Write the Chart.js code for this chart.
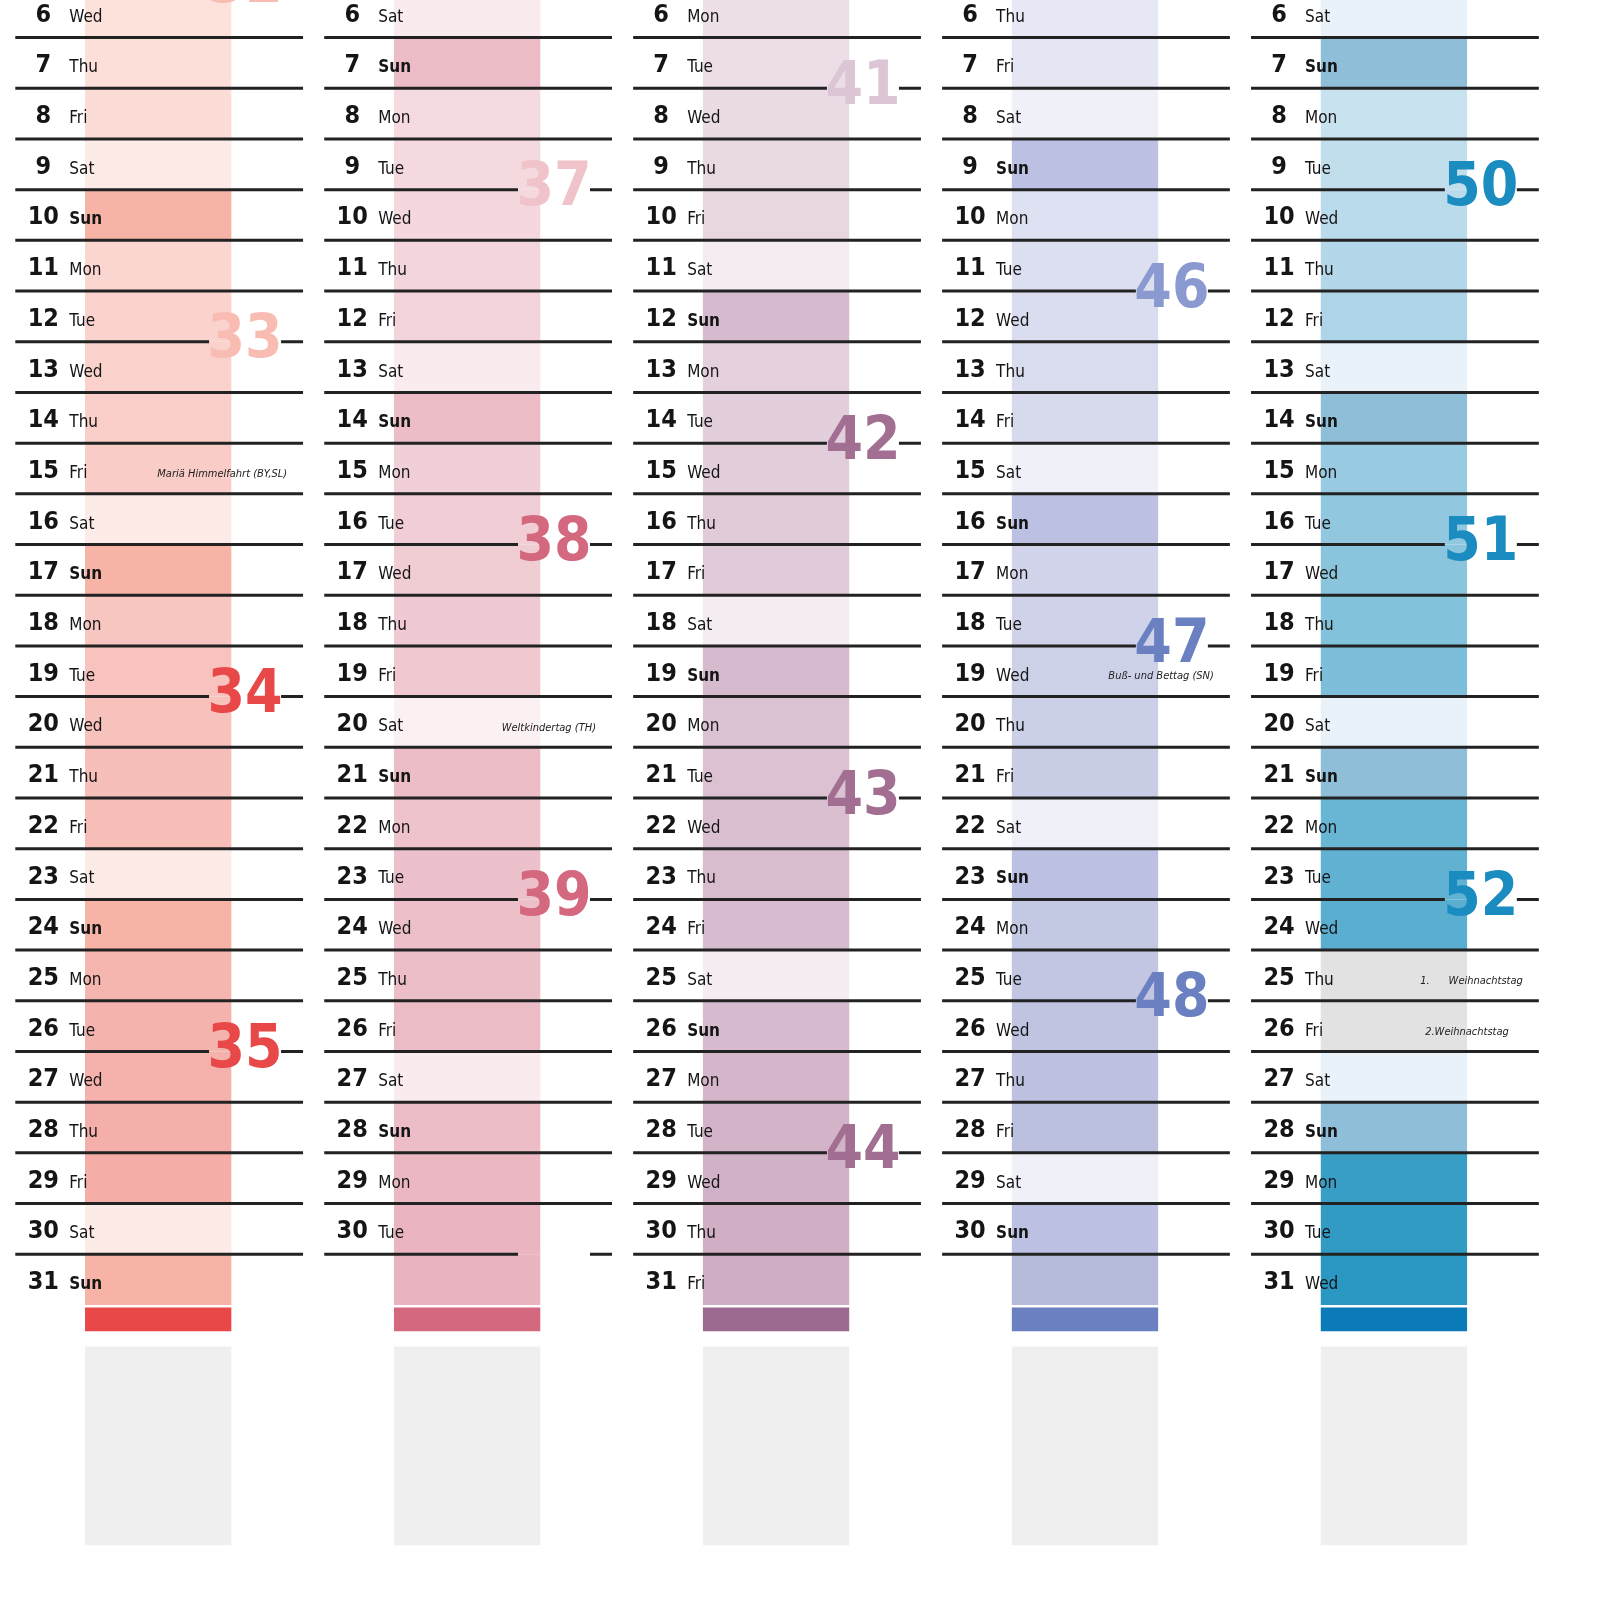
<!DOCTYPE html>
<html><head><meta charset="utf-8">
<script src="https://cdn.jsdelivr.net/npm/chart.js@4.4.1/dist/chart.umd.min.js"></script>
<style>body{margin:0;background:#fff}canvas{display:block}</style>
</head><body>
<canvas id="cal" width="1600" height="1600"></canvas>
<script>
const DAYS = Array.from({length: 26}, (_, i) => i + 6); // 6..31
const MONTHS = ['Aug', 'Sep', 'Oct', 'Nov', 'Dec'];
const WEEKDAYS = [
  'Wed Thu Fri Sat Sun Mon Tue Wed Thu Fri Sat Sun Mon Tue Wed Thu Fri Sat Sun Mon Tue Wed Thu Fri Sat Sun',
  'Sat Sun Mon Tue Wed Thu Fri Sat Sun Mon Tue Wed Thu Fri Sat Sun Mon Tue Wed Thu Fri Sat Sun Mon Tue -',
  'Mon Tue Wed Thu Fri Sat Sun Mon Tue Wed Thu Fri Sat Sun Mon Tue Wed Thu Fri Sat Sun Mon Tue Wed Thu Fri',
  'Thu Fri Sat Sun Mon Tue Wed Thu Fri Sat Sun Mon Tue Wed Thu Fri Sat Sun Mon Tue Wed Thu Fri Sat Sun -',
  'Sat Sun Mon Tue Wed Thu Fri Sat Sun Mon Tue Wed Thu Fri Sat Sun Mon Tue Wed Thu Fri Sat Sun Mon Tue Wed'
].map(s => s.split(' '));
// week number: [label, day above the line it sits on]
const WEEKS = [
  [['32', 5], ['33', 12], ['34', 19], ['35', 26]],
  [['37', 9], ['38', 16], ['39', 23], ['', 30]],
  [['41', 7], ['42', 14], ['43', 21], ['44', 28]],
  [['46', 11], ['47', 18], ['48', 25]],
  [['50', 9], ['51', 16], ['52', 23]]
];
const HOLIDAYS = [
  {m: 0, d: 15, text: 'Mariä Himmelfahrt (BY,SL)'},
  {m: 1, d: 20, text: 'Weltkindertag (TH)'},
  {m: 3, d: 19, text: 'Buß- und Bettag (SN)'},
  {m: 4, d: 25, text: '1.      Weihnachtstag'},
  {m: 4, d: 26, text: '2.Weihnachtstag'}
];

// palette per month: weekday top, weekday bottom, saturday, sunday, week strong, week faded, band
const PAL = [
  ['#fde1db', '#f3a8a3', '#fdebe7', '#f7b4a6', '#e84848', '#f8bcb2', '#e84848'],
  ['#f6dfe3', '#e9b3bf', '#f9ebee', '#ecbdc7', '#d4687f', '#f0c2ca', '#d4687f'],
  ['#eddfe7', '#cfadc4', '#f4ecf1', '#d6bbcf', '#a26f92', '#dcc6d6', '#9c6a90'],
  ['#e6e8f5', '#b6bbdc', '#eff0f8', '#bcc0e2', '#6a80c0', '#8a9ad0', '#6a80c0'],
  ['#d6e8f3', '#2a98c2', '#e9f2f8', '#8fbfd8', '#1a8cc0', '#1a8cc0', '#0a7ab8']
];
const FADED = {'32': 1, '33': 1, '37': 1, '41': 1, '46': 1};

function mix(a, b, t) {
  const p = h => [1, 3, 5].map(i => parseInt(h.substr(i, 2), 16));
  const A = p(a), B = p(b);
  return 'rgb(' + A.map((v, i) => Math.round(v + (B[i] - v) * t)).join(',') + ')';
}
function cellColor(m, i) {
  const wd = WEEKDAYS[m][i], d = DAYS[i];
  if (m === 4 && (d === 25 || d === 26)) return '#e2e2e2';
  if (m === 1 && d === 20) return '#fbf1f3';
  if (wd === 'Sat') return PAL[m][2];
  if (wd === 'Sun') return PAL[m][3];
  return mix(PAL[m][0], PAL[m][1], i / 25);
}

const cellData = [], cellColors = [];
MONTHS.forEach((_, m) => DAYS.forEach((d, i) => {
  cellData.push({x: m, y: [d - 0.5, d + 0.5]});
  cellColors.push(cellColor(m, i));
}));

const FONT = '"DejaVu Sans Condensed", "Liberation Sans Narrow", Roboto, sans-serif';

const calText = {
  id: 'calText',
  afterDatasetsDraw(chart) {
    const {ctx, scales: {x, y}} = chart;
    const half = x.getPixelForValue(0.4625) - x.getPixelForValue(0);
    ctx.save();
    MONTHS.forEach((_, m) => {
      const cx = x.getPixelForValue(m), left = cx - half, right = cx + half;
      const wx = right - 56;
      ctx.strokeStyle = '#222'; ctx.lineWidth = 3;
      DAYS.slice(0, 25).concat([5]).forEach(d => {
        const py = y.getPixelForValue(d + 0.5);
        const wk = WEEKS[m].find(w => w[1] === d);
        ctx.beginPath();
        if (wk) {
          ctx.moveTo(left, py); ctx.lineTo(wx - 36, py);
          ctx.moveTo(wx + 36, py); ctx.lineTo(right + 2, py);
        } else {
          ctx.moveTo(left, py); ctx.lineTo(right + 2, py);
        }
        ctx.stroke();
      });
      DAYS.forEach((d, i) => {
        const wd = WEEKDAYS[m][i];
        if (wd === '-') return;
        const py = y.getPixelForValue(d) + 3;
        ctx.fillStyle = '#151515';
        ctx.textBaseline = 'middle';
        ctx.textAlign = 'center';
        ctx.font = 'bold 25px ' + FONT;
        ctx.fillText(String(d), left + 28, py);
        ctx.textAlign = 'left';
        ctx.font = (wd === 'Sun' ? 'bold ' : '') + '17px ' + FONT;
        ctx.fillText(wd, left + 54, py + 2);
      });
      WEEKS[m].forEach(([lbl, d]) => {
        if (!lbl) return;
        ctx.fillStyle = FADED[lbl] ? PAL[m][5] : PAL[m][4];
        ctx.textAlign = 'center'; ctx.textBaseline = 'middle';
        ctx.font = 'bold 60px ' + FONT;
        ctx.fillText(lbl, wx, y.getPixelForValue(d + 0.5));
      });
    });
    HOLIDAYS.forEach(h => {
      const cx = x.getPixelForValue(h.m);
      ctx.fillStyle = '#222';
      ctx.textAlign = 'right'; ctx.textBaseline = 'middle';
      ctx.font = 'italic 11px ' + FONT;
      const py = y.getPixelForValue(h.d) + (h.m === 3 ? 5 : 6);
      ctx.fillText(h.text, cx + half - (h.m === 4 && h.d === 26 ? 28 : 14), py);
    });
    ctx.restore();
  }
};

const barOpts = {grouped: false, barPercentage: 0.925, categoryPercentage: 1};
new Chart(document.getElementById('cal'), {
  type: 'bar',
  data: {
    datasets: [
      {data: cellData, backgroundColor: cellColors, ...barOpts},
      {data: MONTHS.map((_, m) => ({x: m, y: [31.55, 32.02]})),
       backgroundColor: PAL.map(p => p[6]), ...barOpts},
      {data: MONTHS.map((_, m) => ({x: m, y: [32.32, 36.24]})),
       backgroundColor: '#efefef', ...barOpts}
    ]
  },
  options: {
    responsive: false, animation: false,
    layout: {padding: 0},
    plugins: {legend: {display: false}, tooltip: {enabled: false}},
    scales: {
      x: {type: 'linear', min: -0.512, max: 4.667, offset: false, display: false},
      y: {type: 'linear', min: 5.759, max: 37.32, reverse: true, display: false}
    }
  },
  plugins: [calText]
});
</script>
</body></html>
